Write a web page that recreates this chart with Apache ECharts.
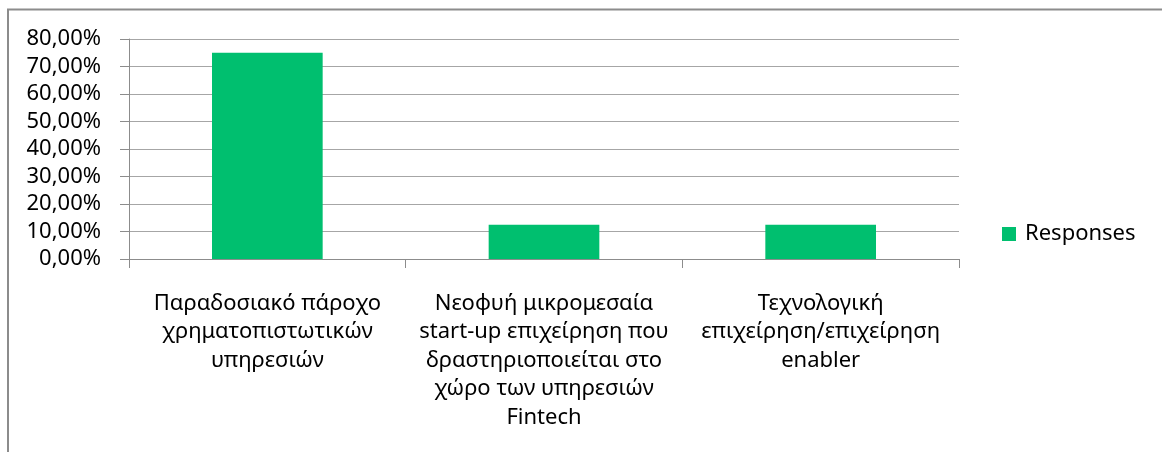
<!DOCTYPE html>
<html>
<head>
<meta charset="utf-8">
<script src="https://cdn.jsdelivr.net/npm/echarts@6/dist/echarts.min.js"></script>
<style>
  html, body { margin: 0; padding: 0; background: #fff; }
  #chart { width: 1162px; height: 452px; }
</style>
</head>
<body>
<div id="chart"></div>
<script>
// values (share of responses, %)
const categories = [
  "Παραδοσιακό πάροχο\nχρηματοπιστωτικών\nυπηρεσιών",
  "Νεοφυή μικρομεσαία\nstart-up επιχείρηση που\nδραστηριοποιείται στο\nχώρο των υπηρεσιών\nFintech",
  "Τεχνολογική\nεπιχείρηση/επιχείρηση\nenabler",
];
const responses = [75, 12.5, 12.5];
const seriesName = "Responses";

const FONT = "Noto Sans";
const chart = echarts.init(document.getElementById("chart"));

chart.setOption({
  animation: false,
  textStyle: { fontFamily: FONT, color: "#000" },
  grid: { left: 129, right: 203, top: 39, bottom: 193, containLabel: false },
  // the outer chart frame (top and left edges only are visible in the crop)
  graphic: [{
    type: "polyline",
    silent: true,
    shape: { points: [[8, 452], [8, 9.5], [1162, 9.5]] },
    style: { stroke: "#8c8c8c", lineWidth: 2, fill: null },
  }],
  legend: {
    data: [seriesName],
    orient: "vertical",
    left: 1002,
    top: 223,
    padding: 0,
    itemWidth: 14,
    itemHeight: 14,
    itemGap: 0,
    icon: "rect",
    textStyle: { fontFamily: FONT, fontSize: 22, color: "#000", padding: [0, 0, 0, 4] },
  },
  xAxis: {
    type: "category",
    data: categories,
    axisLine: { lineStyle: { color: "#8c8c8c", width: 1 } },
    axisTick: { show: true, length: 9, alignWithLabel: false, lineStyle: { color: "#8c8c8c" } },
    axisLabel: {
      interval: 0,
      margin: 30,
      fontSize: 22,
      lineHeight: 28.5,
      color: "#000",
      fontFamily: FONT,
      align: "center",
    },
  },
  yAxis: {
    type: "value",
    min: 0,
    max: 80,
    interval: 10,
    axisLine: { show: true, lineStyle: { color: "#8c8c8c", width: 1 } },
    axisTick: { show: true, length: 9, lineStyle: { color: "#8c8c8c" } },
    splitLine: { lineStyle: { color: "#a6a6a6", width: 1 } },
    axisLabel: {
      margin: 28,
      fontSize: 22,
      color: "#000",
      fontFamily: FONT,
      formatter: (v) => v.toFixed(2).replace(".", ",") + "%",
    },
  },
  series: [{
    name: seriesName,
    type: "bar",
    data: responses,
    barWidth: "40%",
    itemStyle: { color: "#00bf6f" },
  }],
});
</script>
</body>
</html>
